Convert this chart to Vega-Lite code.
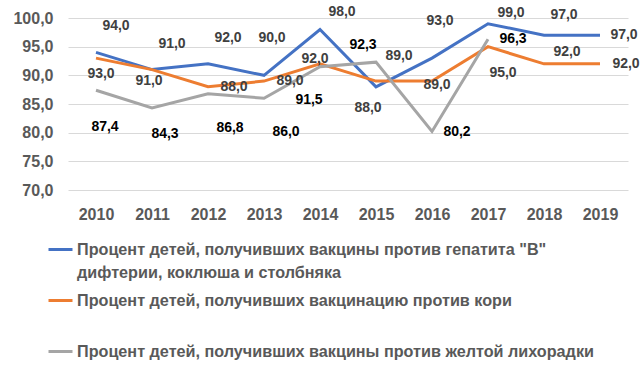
{
  "$schema": "https://vega.github.io/schema/vega-lite/v6.json",
  "autosize": "none",
  "width": 560,
  "height": 172,
  "padding": {"left": 68, "top": 18, "right": 16, "bottom": 186},
  "background": "white",
  "config": {
    "view": {"stroke": null},
    "font": "Liberation Sans",
    "text": {"fontWeight": "bold", "fontSize": 14},
    "locale": {"number": {"decimal": ",", "thousands": " ", "grouping": [3], "currency": ["", ""]}}
  },
  "data": {"values": [
    {"year": "2010", "series": "hep", "value": 94},
    {"year": "2011", "series": "hep", "value": 91},
    {"year": "2012", "series": "hep", "value": 92},
    {"year": "2013", "series": "hep", "value": 90},
    {"year": "2014", "series": "hep", "value": 98},
    {"year": "2015", "series": "hep", "value": 88},
    {"year": "2016", "series": "hep", "value": 93},
    {"year": "2017", "series": "hep", "value": 99},
    {"year": "2018", "series": "hep", "value": 97},
    {"year": "2019", "series": "hep", "value": 97},
    {"year": "2010", "series": "measles", "value": 93},
    {"year": "2011", "series": "measles", "value": 91},
    {"year": "2012", "series": "measles", "value": 88},
    {"year": "2013", "series": "measles", "value": 89},
    {"year": "2014", "series": "measles", "value": 92},
    {"year": "2015", "series": "measles", "value": 89},
    {"year": "2016", "series": "measles", "value": 89},
    {"year": "2017", "series": "measles", "value": 95},
    {"year": "2018", "series": "measles", "value": 92},
    {"year": "2019", "series": "measles", "value": 92},
    {"year": "2010", "series": "yf", "value": 87.4},
    {"year": "2011", "series": "yf", "value": 84.3},
    {"year": "2012", "series": "yf", "value": 86.8},
    {"year": "2013", "series": "yf", "value": 86.0},
    {"year": "2014", "series": "yf", "value": 91.5},
    {"year": "2015", "series": "yf", "value": 92.3},
    {"year": "2016", "series": "yf", "value": 80.2},
    {"year": "2017", "series": "yf", "value": 96.3}
  ]},
  "encoding": {
    "x": {"field": "year", "type": "ordinal", "scale": {"type": "point", "padding": 0.5},
      "axis": {"title": null, "labelAngle": 0, "labelFontSize": 16, "labelFontWeight": "bold", "labelColor": "#595959", "domain": false, "ticks": false, "labelPadding": 16, "grid": false}},
    "y": {"field": "value", "type": "quantitative", "scale": {"domain": [70, 100], "zero": false, "nice": false},
      "axis": {"title": null, "values": [70, 75, 80, 85, 90, 95, 100], "format": ".1f", "labelFontSize": 16, "labelFontWeight": "bold", "labelColor": "#595959", "domain": false, "ticks": false, "labelPadding": 15, "gridColor": "#d9d9d9", "gridWidth": 1}}
  },
  "layer": [
    {
      "mark": {"type": "line", "strokeWidth": 3},
      "encoding": {
        "color": {"field": "series", "type": "nominal",
          "scale": {"domain": ["hep", "measles", "yf"], "range": ["#4472C4", "#ED7D31", "#A5A5A5"]},
          "legend": {"title": null, "orient": "none", "legendX": -21, "legendY": 218, "direction": "vertical",
            "symbolType": "stroke", "symbolSize": 576, "symbolStrokeWidth": 3,
            "labelFontSize": 16.2, "labelFontWeight": "bold", "labelColor": "#595959", "labelLimit": 700, "labelOffset": 3, "rowPadding": 6,
            "labelExpr": "datum.value == 'hep' ? ['Процент детей, получивших вакцины против гепатита \"В\"', 'дифтерии, коклюша и столбняка'] : datum.value == 'measles' ? ['Процент детей, получивших вакцинацию против кори', ''] : ['Процент детей, получивших вакцины против желтой лихорадки', '']",
            "encode": {"labels": {"update": {"lineHeight": {"value": 23}}}}}
        }
      }
    },
    {"transform": [{"filter": {"and": [{"field": "series", "equal": "hep"}, {"field": "year", "oneOf": ["2010", "2011", "2012"]}]}}],
     "mark": {"type": "text", "dx": 20, "dy": -26, "color": "#404040"}, "encoding": {"text": {"field": "value", "type": "quantitative", "format": ".1f"}}},
    {"transform": [{"filter": {"and": [{"field": "series", "equal": "hep"}, {"field": "year", "oneOf": ["2013", "2016"]}]}}],
     "mark": {"type": "text", "dx": 8, "dy": -37, "color": "#404040"}, "encoding": {"text": {"field": "value", "type": "quantitative", "format": ".1f"}}},
    {"transform": [{"filter": {"and": [{"field": "series", "equal": "hep"}, {"field": "year", "oneOf": ["2014"]}]}}],
     "mark": {"type": "text", "dx": 22, "dy": -17, "color": "#404040"}, "encoding": {"text": {"field": "value", "type": "quantitative", "format": ".1f"}}},
    {"transform": [{"filter": {"and": [{"field": "series", "equal": "hep"}, {"field": "year", "oneOf": ["2015"]}]}}],
     "mark": {"type": "text", "dx": -8, "dy": 21, "color": "#404040"}, "encoding": {"text": {"field": "value", "type": "quantitative", "format": ".1f"}}},
    {"transform": [{"filter": {"and": [{"field": "series", "equal": "hep"}, {"field": "year", "oneOf": ["2017"]}]}}],
     "mark": {"type": "text", "dx": 23, "dy": -11, "color": "#404040"}, "encoding": {"text": {"field": "value", "type": "quantitative", "format": ".1f"}}},
    {"transform": [{"filter": {"and": [{"field": "series", "equal": "hep"}, {"field": "year", "oneOf": ["2018"]}]}}],
     "mark": {"type": "text", "dx": 20, "dy": -20, "color": "#404040"}, "encoding": {"text": {"field": "value", "type": "quantitative", "format": ".1f"}}},
    {"transform": [{"filter": {"and": [{"field": "series", "equal": "hep"}, {"field": "year", "oneOf": ["2019"]}]}}],
     "mark": {"type": "text", "dx": 24, "dy": 0, "color": "#404040"}, "encoding": {"text": {"field": "value", "type": "quantitative", "format": ".1f"}}},
    {"transform": [{"filter": {"and": [{"field": "series", "equal": "measles"}, {"field": "year", "oneOf": ["2010"]}]}}],
     "mark": {"type": "text", "dx": 5, "dy": 16, "color": "#404040"}, "encoding": {"text": {"field": "value", "type": "quantitative", "format": ".1f"}}},
    {"transform": [{"filter": {"and": [{"field": "series", "equal": "measles"}, {"field": "year", "oneOf": ["2011"]}]}}],
     "mark": {"type": "text", "dx": -3, "dy": 11, "color": "#404040"}, "encoding": {"text": {"field": "value", "type": "quantitative", "format": ".1f"}}},
    {"transform": [{"filter": {"and": [{"field": "series", "equal": "measles"}, {"field": "year", "oneOf": ["2012", "2013", "2019"]}]}}],
     "mark": {"type": "text", "dx": 26, "dy": 0, "color": "#404040"}, "encoding": {"text": {"field": "value", "type": "quantitative", "format": ".1f"}}},
    {"transform": [{"filter": {"and": [{"field": "series", "equal": "measles"}, {"field": "year", "oneOf": ["2014"]}]}}],
     "mark": {"type": "text", "dx": -5, "dy": -5, "color": "#404040"}, "encoding": {"text": {"field": "value", "type": "quantitative", "format": ".1f"}}},
    {"transform": [{"filter": {"and": [{"field": "series", "equal": "measles"}, {"field": "year", "oneOf": ["2015"]}]}}],
     "mark": {"type": "text", "dx": 23, "dy": -25, "color": "#404040"}, "encoding": {"text": {"field": "value", "type": "quantitative", "format": ".1f"}}},
    {"transform": [{"filter": {"and": [{"field": "series", "equal": "measles"}, {"field": "year", "oneOf": ["2016"]}]}}],
     "mark": {"type": "text", "dx": 5, "dy": 4, "color": "#404040"}, "encoding": {"text": {"field": "value", "type": "quantitative", "format": ".1f"}}},
    {"transform": [{"filter": {"and": [{"field": "series", "equal": "measles"}, {"field": "year", "oneOf": ["2017"]}]}}],
     "mark": {"type": "text", "dx": 15, "dy": 26, "color": "#404040"}, "encoding": {"text": {"field": "value", "type": "quantitative", "format": ".1f"}}},
    {"transform": [{"filter": {"and": [{"field": "series", "equal": "measles"}, {"field": "year", "oneOf": ["2018"]}]}}],
     "mark": {"type": "text", "dx": 23, "dy": -12, "color": "#404040"}, "encoding": {"text": {"field": "value", "type": "quantitative", "format": ".1f"}}},
    {"transform": [{"filter": {"and": [{"field": "series", "equal": "yf"}, {"field": "year", "oneOf": ["2010"]}]}}],
     "mark": {"type": "text", "dx": 9, "dy": 37, "color": "#000000"}, "encoding": {"text": {"field": "value", "type": "quantitative", "format": ".1f"}}},
    {"transform": [{"filter": {"and": [{"field": "series", "equal": "yf"}, {"field": "year", "oneOf": ["2011"]}]}}],
     "mark": {"type": "text", "dx": 13, "dy": 26, "color": "#000000"}, "encoding": {"text": {"field": "value", "type": "quantitative", "format": ".1f"}}},
    {"transform": [{"filter": {"and": [{"field": "series", "equal": "yf"}, {"field": "year", "oneOf": ["2012", "2013"]}]}}],
     "mark": {"type": "text", "dx": 22, "dy": 34, "color": "#000000"}, "encoding": {"text": {"field": "value", "type": "quantitative", "format": ".1f"}}},
    {"transform": [{"filter": {"and": [{"field": "series", "equal": "yf"}, {"field": "year", "oneOf": ["2014"]}]}}],
     "mark": {"type": "text", "dx": -11, "dy": 33, "color": "#000000"}, "encoding": {"text": {"field": "value", "type": "quantitative", "format": ".1f"}}},
    {"transform": [{"filter": {"and": [{"field": "series", "equal": "yf"}, {"field": "year", "oneOf": ["2015"]}]}}],
     "mark": {"type": "text", "dx": -13, "dy": -17, "color": "#000000"}, "encoding": {"text": {"field": "value", "type": "quantitative", "format": ".1f"}}},
    {"transform": [{"filter": {"and": [{"field": "series", "equal": "yf"}, {"field": "year", "oneOf": ["2016", "2017"]}]}}],
     "mark": {"type": "text", "dx": 25, "dy": 0, "color": "#000000"}, "encoding": {"text": {"field": "value", "type": "quantitative", "format": ".1f"}}}
  ]
}
